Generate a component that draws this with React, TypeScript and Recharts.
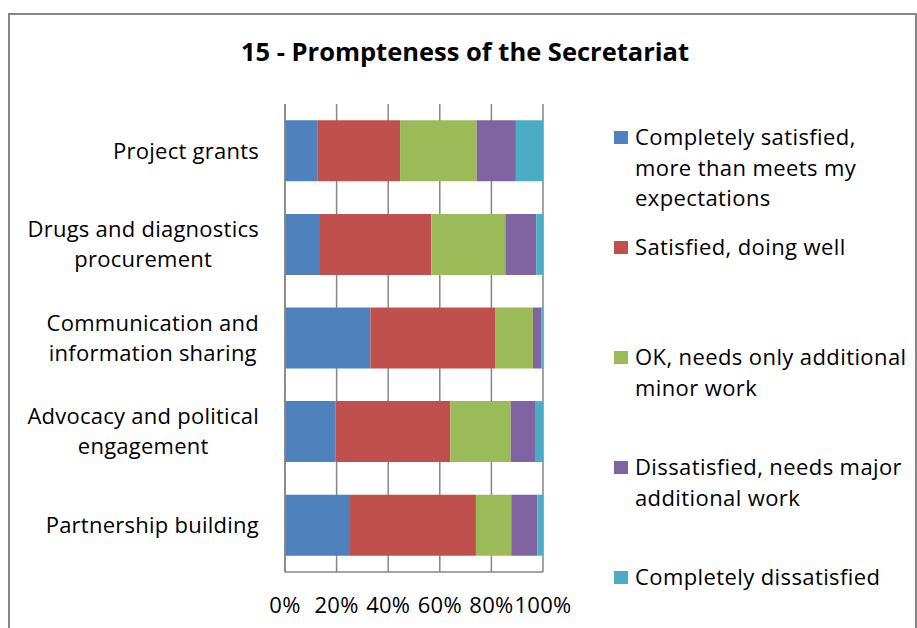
import { BarChart, Bar, XAxis, YAxis, CartesianGrid } from 'recharts'

const title = '15 - Prompteness of the Secretariat'

const categories = [
  'Project grants',
  'Drugs and diagnostics\nprocurement',
  'Communication and\ninformation sharing',
  'Advocacy and political\nengagement',
  'Partnership building',
]

const seriesNames = [
  'Completely satisfied,\nmore than meets my\nexpectations',
  'Satisfied, doing well',
  'OK, needs only additional\nminor work',
  'Dissatisfied, needs major\nadditional work',
  'Completely dissatisfied',
]

const seriesColors = ['#4F81BD', '#C0504D', '#9BBB59', '#8064A2', '#4BACC6']

// percent of answers per category
const completelySatisfied = [12.7, 13.2, 33.1, 19.6, 25.2]
const satisfied = [31.9, 43.5, 48.3, 44.5, 48.8]
const okMinorWork = [29.7, 28.7, 14.7, 23.4, 13.7]
const dissatisfied = [15.2, 12.0, 3.2, 9.4, 10.1]
const completelyDissatisfied = [10.5, 2.6, 0.7, 3.1, 2.2]

const xTicks = [0, 0.2, 0.4, 0.6, 0.8, 1]

const seriesKeys = ['s0', 's1', 's2', 's3', 's4']
const seriesValues = [completelySatisfied, satisfied, okMinorWork, dissatisfied, completelyDissatisfied]

const data = categories.map((name, i) => {
  const row: Record<string, any> = { name }
  seriesKeys.forEach((k, j) => {
    row[k] = seriesValues[j][i]
  })
  return row
})

const FONT = '"Open Sans", "Liberation Sans", sans-serif'
const LABEL_SIZE = 22
const SPACING = 0.25
const GRID = '#868686'

let ctx: CanvasRenderingContext2D | null = null
function textWidth(s: string, size: number) {
  if (!ctx) ctx = document.createElement('canvas').getContext('2d')
  if (!ctx) return s.length * size * 0.5
  ctx.font = `${size}px ${FONT}`
  return ctx.measureText(s).width + s.length * SPACING
}

function CategoryTick(props: any) {
  const { y, payload } = props
  const lines = String(payload.value).split('\n')
  const right = 259
  const lineH = 30
  const blockW = Math.max(...lines.map((l) => textWidth(l, LABEL_SIZE)))
  const cx = right - blockW / 2
  const startY = y - ((lines.length - 1) * lineH) / 2
  return (
    <text
      textAnchor="middle"
      fontFamily={FONT}
      fontSize={LABEL_SIZE}
      letterSpacing={SPACING}
      fill="#000"
    >
      {lines.map((l, i) => (
        <tspan key={i} x={cx} y={startY + i * lineH} dy="0.35em">
          {l}
        </tspan>
      ))}
    </text>
  )
}

function PercentTick(props: any) {
  const { x, payload } = props
  return (
    <text
      x={x}
      y={613}
      textAnchor="middle"
      fontFamily={FONT}
      fontSize={LABEL_SIZE}
      letterSpacing={SPACING}
      fill="#000"
    >
      {`${Math.round(payload.value * 100)}%`}
    </text>
  )
}

function LegendBox() {
  return (
    <div style={{ position: 'absolute', left: 614, top: 121, width: 300, fontFamily: FONT }}>
      {seriesNames.map((n, i) => (
        <div key={i} style={{ position: 'absolute', left: 0, top: i * 110 }}>
          <div
            style={{
              position: 'absolute',
              left: 0,
              top: 10,
              width: 14,
              height: 13,
              background: seriesColors[i],
            }}
          />
          <div
            style={{
              position: 'absolute',
              left: 21,
              top: 0,
              whiteSpace: 'pre',
              fontSize: LABEL_SIZE,
              letterSpacing: 0.4,
              lineHeight: '30.5px',
              color: '#000',
            }}
          >
            {n}
          </div>
        </div>
      ))}
    </div>
  )
}

export default function App() {
  return (
    <div style={{ position: 'absolute', left: 0, top: 0, width: 917, height: 628, overflow: 'hidden', background: '#fff' }}>
      <div
        style={{
          position: 'absolute',
          left: 8,
          top: 13,
          width: 909,
          height: 640,
          border: '2px solid #868686',
          boxSizing: 'border-box',
        }}
      />
      <div
        style={{
          position: 'absolute',
          left: 0,
          width: 930,
          textAlign: 'center',
          top: 35,
          fontFamily: FONT,
          fontWeight: 'bold',
          fontSize: 25.5,
          color: '#000',
          lineHeight: '32px',
        }}
      >
        {title}
      </div>
      <div style={{ position: 'absolute', left: 0, top: 0 }}>
        <BarChart
          width={917}
          height={628}
          data={data}
          layout="vertical"
          stackOffset="expand"
          barCategoryGap="17.4%"
          margin={{ top: 104, right: 374, bottom: 0, left: 0 }}
        >
          <CartesianGrid horizontal={false} stroke={GRID} strokeWidth={1.5} />
          <XAxis
            type="number"
            domain={[0, 1]}
            ticks={xTicks}
            height={56}
            axisLine={{ stroke: GRID, strokeWidth: 1.5 }}
            tickLine={false}
            tick={<PercentTick />}
            interval={0}
          />
          <YAxis
            type="category"
            dataKey="name"
            width={285}
            axisLine={{ stroke: GRID, strokeWidth: 1.5 }}
            tickLine={false}
            tick={<CategoryTick />}
            interval={0}
          />
          {seriesKeys.map((k, i) => (
            <Bar key={k} dataKey={k} stackId="a" fill={seriesColors[i]} isAnimationActive={false} />
          ))}
        </BarChart>
      </div>
      <LegendBox />
    </div>
  )
}
